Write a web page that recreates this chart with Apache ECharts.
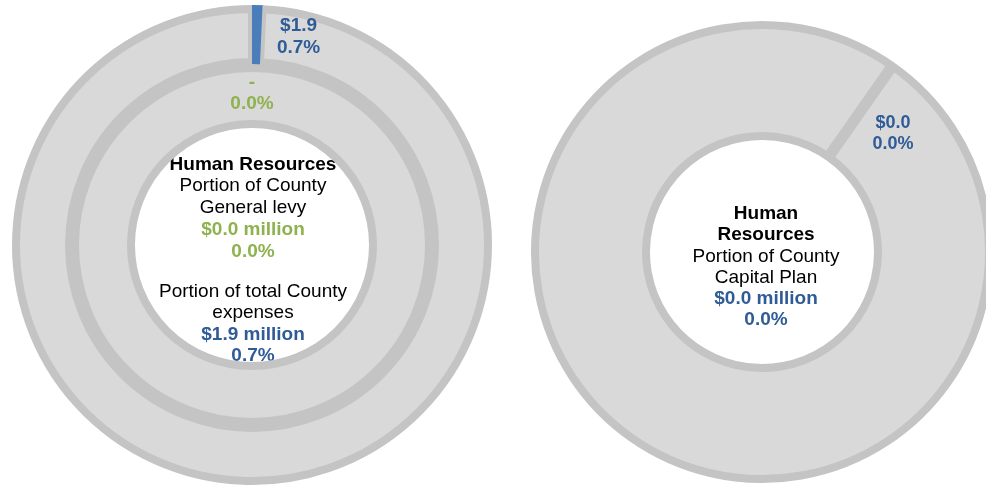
<!DOCTYPE html>
<html>
<head>
<meta charset="utf-8">
<script src="https://cdn.jsdelivr.net/npm/echarts@6/dist/echarts.min.js"></script>
<style>
  html, body { margin: 0; padding: 0; background: #ffffff; }
  #chart { width: 986px; height: 490px; }
</style>
</head>
<body>
<div id="chart"></div>
<script>
// Share of County totals held by Human Resources
const department = 'Human Resources';
const sliceNames = ['Human Resources', 'Rest of County'];

// Outer ring: total County expenses (percent), plus HR amount in $ millions
const expensePct = [0.7, 99.3];
const expenseAmount = 1.9;

// Inner ring: County general levy (percent)
const levyPct = [0.0, 100.0];
const levyAmount = 0.0;

// Right donut: County capital plan (percent)
const capitalPct = [0.0, 100.0];
const capitalAmount = 0.0;

const FONT = '"Liberation Sans", Arial, sans-serif';
const BLUE = '#4A7EBB';
const BLUE_TEXT = '#2F5B97';
const GREEN = '#8EB24E';
const RING = '#d9d9d9';
const EDGE = '#c4c4c4';

const fmtPct = v => v.toFixed(1) + '%';
const fmtMoney = v => '$' + v.toFixed(1);

const chart = echarts.init(document.getElementById('chart'), null, { renderer: 'canvas' });

const option = {
  backgroundColor: '#ffffff',
  animation: false,
  series: [
    {
      // total County expenses: grey ring with slice edges
      type: 'pie',
      center: [252, 245],
      radius: [183, 236],
      startAngle: 90,
      clockwise: true,
      silent: true,
      label: { show: false },
      labelLine: { show: false },
      itemStyle: { color: RING, borderColor: EDGE, borderWidth: 8 },
      data: expensePct.map((v, i) => ({ name: sliceNames[i], value: v }))
    },
    {
      // total County expenses: Human Resources slice drawn across the full ring depth
      type: 'pie',
      center: [252, 245],
      radius: [180, 240],
      startAngle: 90,
      clockwise: true,
      silent: true,
      avoidLabelOverlap: false,
      labelLine: { show: true, length: 4, length2: 4, lineStyle: { color: '#9a9a9a', width: 1.5 } },
      labelLayout: function (p) {
        if (p.dataIndex !== 0) return;
        const r = p.rect;
        const cy = r.y + r.height / 2 + 2;
        return {
          x: r.x + r.width + 36,
          y: cy,
          align: 'center',
          verticalAlign: 'middle',
          labelLinePoints: [[r.x + r.width / 2 + 1, cy], [r.x + r.width + 7, cy], [r.x + r.width + 7, cy]]
        };
      },
      data: expensePct.map((v, i) => i === 0
        ? {
            name: sliceNames[i], value: v,
            itemStyle: { color: BLUE, borderWidth: 0 },
            label: {
              show: true,
              position: 'outside',
              formatter: () => fmtMoney(expenseAmount) + '\n' + fmtPct(v),
              color: BLUE_TEXT,
              fontFamily: FONT,
              fontWeight: 'bold',
              fontSize: 19,
              lineHeight: 22
            }
          }
        : {
            name: sliceNames[i], value: v,
            itemStyle: { color: 'rgba(0,0,0,0)', borderWidth: 0 },
            label: { show: false }, labelLine: { show: false }
          })
    },
    {
      // County general levy
      type: 'pie',
      center: [252, 245],
      radius: [121, 177],
      startAngle: 90,
      clockwise: true,
      silent: true,
      avoidLabelOverlap: false,
      itemStyle: { borderColor: EDGE, borderWidth: 8 },
      data: levyPct.map((v, i) => i === 0
        ? {
            name: sliceNames[i], value: v,
            itemStyle: { color: GREEN, borderWidth: 0 },
            label: {
              show: true,
              position: 'inside',
              formatter: p => (p.value === 0 ? '-' : fmtMoney(levyAmount)) + '\n' + fmtPct(p.value),
              color: GREEN,
              fontFamily: FONT,
              fontWeight: 'bold',
              fontSize: 19,
              lineHeight: 21
            }
          }
        : { name: sliceNames[i], value: v, itemStyle: { color: RING }, label: { show: false }, labelLine: { show: false } })
    },
    {
      // County capital plan; listed counter-clockwise so the HR slice edge is painted last
      type: 'pie',
      center: [762, 252],
      radius: [116, 227],
      startAngle: 55,
      clockwise: false,
      silent: true,
      avoidLabelOverlap: false,
      itemStyle: { borderColor: EDGE, borderWidth: 8 },
      data: capitalPct.map((v, i) => i === 0
        ? {
            name: sliceNames[i], value: v,
            itemStyle: { color: RING, borderColor: EDGE, borderWidth: 11, borderJoin: 'bevel' },
            label: {
              show: true,
              position: 'inside',
              offset: [31, 24],
              formatter: () => fmtMoney(capitalAmount) + '\n' + fmtPct(v),
              color: BLUE_TEXT,
              fontFamily: FONT,
              fontWeight: 'bold',
              fontSize: 18,
              lineHeight: 21
            }
          }
        : { name: sliceNames[i], value: v, itemStyle: { color: RING }, label: { show: false }, labelLine: { show: false } })
        .reverse()
    }
  ],
  graphic: [
    {
      type: 'text',
      x: 253, y: 208,
      silent: true,
      style: {
        text: '{b|' + department + '}\n{n|Portion of County}\n{n|General levy}\n{g|' +
              fmtMoney(levyAmount) + ' million}\n{g|' + fmtPct(levyPct[0]) + '}',
        align: 'center',
        verticalAlign: 'middle',
        rich: {
          b: { fontFamily: FONT, fontSize: 19, fontWeight: 'bold', fill: '#000', lineHeight: 21.8, align: 'center' },
          n: { fontFamily: FONT, fontSize: 19, fill: '#000', lineHeight: 21.8, align: 'center' },
          g: { fontFamily: FONT, fontSize: 19, fontWeight: 'bold', fill: GREEN, lineHeight: 21.8, align: 'center' }
        }
      }
    },
    {
      type: 'text',
      x: 253, y: 324,
      silent: true,
      style: {
        text: '{n|Portion of total County}\n{n|expenses}\n{c|' +
              fmtMoney(expenseAmount) + ' million}\n{c|' + fmtPct(expensePct[0]) + '}',
        align: 'center',
        verticalAlign: 'middle',
        rich: {
          n: { fontFamily: FONT, fontSize: 19, fill: '#000', lineHeight: 21.5, align: 'center' },
          c: { fontFamily: FONT, fontSize: 19, fontWeight: 'bold', fill: BLUE_TEXT, lineHeight: 21.5, align: 'center' }
        }
      }
    },
    {
      type: 'text',
      x: 766, y: 267,
      silent: true,
      style: {
        text: '{b|Human}\n{b|Resources}\n{n|Portion of County}\n{n|Capital Plan}\n{c|' +
              fmtMoney(capitalAmount) + ' million}\n{c|' + fmtPct(capitalPct[0]) + '}',
        align: 'center',
        verticalAlign: 'middle',
        rich: {
          b: { fontFamily: FONT, fontSize: 19, fontWeight: 'bold', fill: '#000', lineHeight: 21.3, align: 'center' },
          n: { fontFamily: FONT, fontSize: 19, fill: '#000', lineHeight: 21.3, align: 'center' },
          c: { fontFamily: FONT, fontSize: 19, fontWeight: 'bold', fill: BLUE_TEXT, lineHeight: 21.3, align: 'center' }
        }
      }
    }
  ]
};

chart.setOption(option);
</script>
</body>
</html>
